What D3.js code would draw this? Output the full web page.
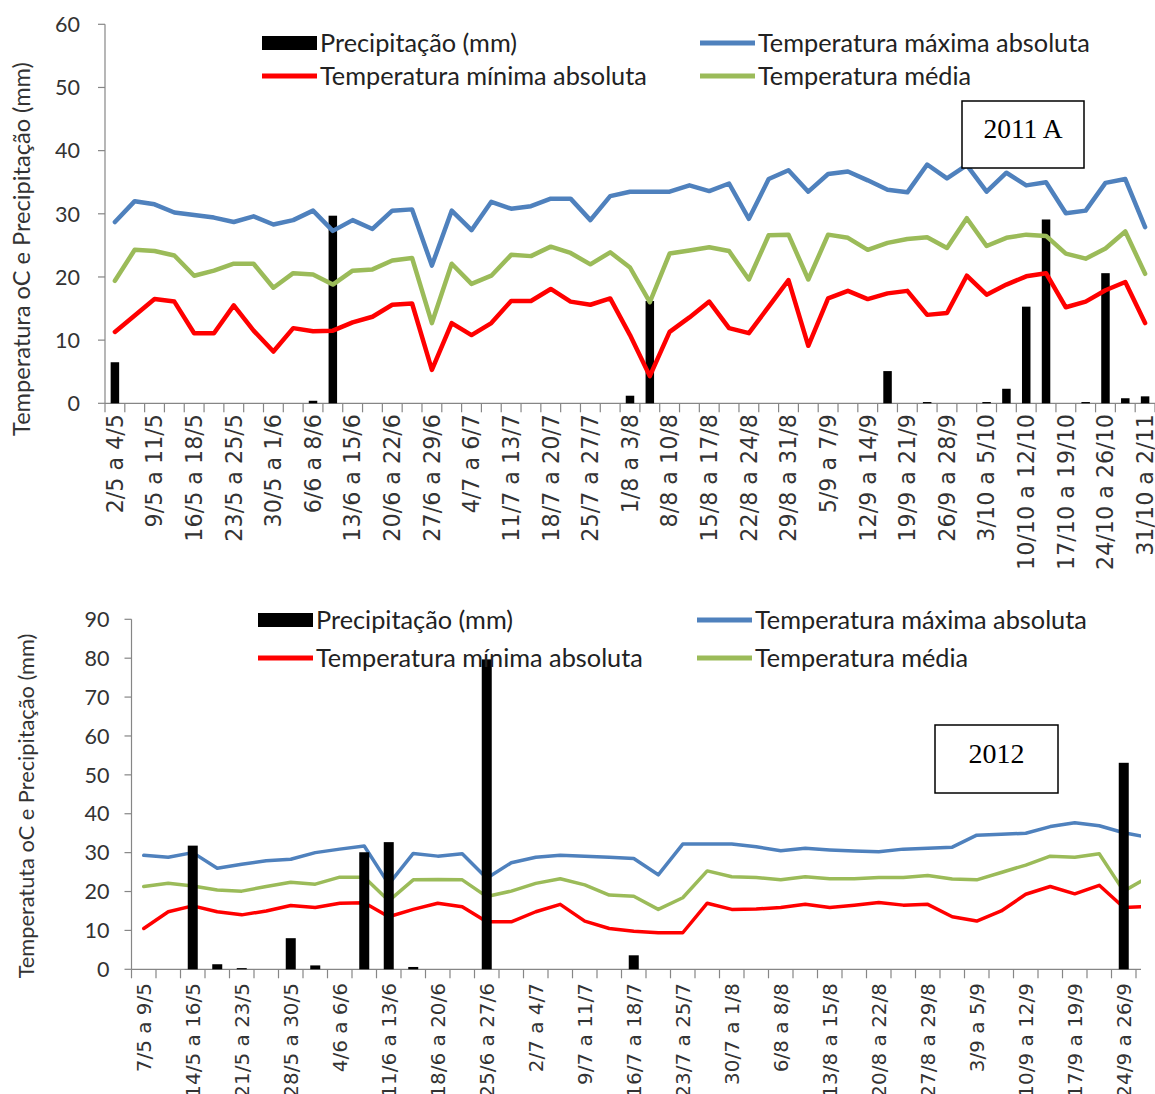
<!DOCTYPE html>
<html><head><meta charset="utf-8">
<script src="https://cdn.jsdelivr.net/npm/d3@7"></script>
<style>body{margin:0;background:#fff}svg{display:block}</style>
</head><body>
<svg id="c" width="1155" height="1094"></svg>
<script>
// ---------- DATA: 2011 A (twice-weekly periods) ----------
const labels2011 = ["2/5 a 4/5","9/5 a 11/5","16/5 a 18/5","23/5 a 25/5","30/5 a 1/6","6/6 a 8/6","13/6 a 15/6","20/6 a 22/6","27/6 a 29/6","4/7 a 6/7","11/7 a 13/7","18/7 a 20/7","25/7 a 27/7","1/8 a 3/8","8/8 a 10/8","15/8 a 17/8","22/8 a 24/8","29/8 a 31/8","5/9 a 7/9","12/9 a 14/9","19/9 a 21/9","26/9 a 28/9","3/10 a 5/10","10/10 a 12/10","17/10 a 19/10","24/10 a 26/10","31/10 a 2/11"];
const precip2011 = [6.5,0,0,0,0,0,0,0,0,0,0.4,29.7,0,0,0,0,0,0,0,0,0,0,0,0,0,0,1.2,16.2,0,0,0,0,0,0,0,0,0,0,0,5.1,0,0.2,0,0,0.2,2.3,15.3,29.1,0,0.2,20.6,0.8,1.1];
const tmax2011 = [28.7,32.0,31.5,30.2,29.8,29.4,28.7,29.6,28.3,29.0,30.5,27.3,29.0,27.6,30.5,30.7,21.8,30.5,27.4,31.9,30.8,31.2,32.4,32.4,29.0,32.8,33.5,33.5,33.5,34.5,33.6,34.8,29.2,35.5,36.9,33.5,36.3,36.7,35.3,33.8,33.4,37.8,35.6,37.7,33.5,36.5,34.5,35.0,30.1,30.5,34.9,35.5,27.9];
const tmin2011 = [11.3,13.9,16.5,16.1,11.1,11.1,15.5,11.5,8.2,11.9,11.4,11.5,12.8,13.7,15.6,15.8,5.3,12.7,10.8,12.7,16.2,16.2,18.1,16.1,15.6,16.6,10.8,4.3,11.3,13.6,16.1,11.9,11.1,15.3,19.5,9.1,16.6,17.8,16.5,17.4,17.8,14.0,14.3,20.2,17.2,18.8,20.1,20.6,15.2,16.1,17.9,19.2,12.7];
const tmed2011 = [19.4,24.3,24.1,23.4,20.2,21.0,22.1,22.1,18.3,20.6,20.4,18.8,21.0,21.2,22.6,23.0,12.7,22.1,18.9,20.2,23.5,23.3,24.8,23.8,22.0,23.9,21.5,16.0,23.7,24.2,24.7,24.1,19.6,26.6,26.7,19.6,26.7,26.2,24.3,25.4,26.0,26.3,24.6,29.3,24.9,26.2,26.7,26.5,23.7,22.9,24.5,27.2,20.5];
const yTicks2011 = [0,10,20,30,40,50,60];

// ---------- DATA: 2012 ----------
const labels2012 = ["7/5 a 9/5","14/5 a 16/5","21/5 a 23/5","28/5 a 30/5","4/6 a 6/6","11/6 a 13/6","18/6 a 20/6","25/6 a 27/6","2/7 a 4/7","9/7 a 11/7","16/7 a 18/7","23/7 a 25/7","30/7 a 1/8","6/8 a 8/8","13/8 a 15/8","20/8 a 22/8","27/8 a 29/8","3/9 a 5/9","10/9 a 12/9","17/9 a 19/9","24/9 a 26/9"];
const precip2012 = [0,0,31.8,1.3,0.3,0,8.0,1.0,0,30.1,32.7,0.6,0,0,79.7,0,0,0,0,0,3.6,0,0,0,0,0,0,0,0,0,0,0,0,0,0,0,0,0,0,0,53.1,0];
const tmax2012 = [29.3,28.8,30.0,26.0,27.0,27.9,28.3,30.0,30.9,31.7,21.9,29.8,29.1,29.7,23.4,27.4,28.8,29.3,29.1,28.8,28.5,24.3,32.2,32.2,32.2,31.5,30.5,31.1,30.7,30.4,30.2,30.9,31.1,31.4,34.5,34.7,35.0,36.7,37.7,36.9,35.1,33.9];
const tmin2012 = [10.5,14.8,16.3,14.8,14.0,15.0,16.4,15.9,17.0,17.1,13.5,15.4,17.0,16.1,12.2,12.2,14.8,16.7,12.4,10.5,9.8,9.4,9.4,17.0,15.4,15.5,15.9,16.7,15.9,16.5,17.2,16.5,16.7,13.5,12.4,15.0,19.3,21.3,19.4,21.6,15.9,16.2];
const tmed2012 = [21.3,22.1,21.4,20.4,20.1,21.3,22.4,21.9,23.7,23.7,17.6,23.0,23.1,23.0,18.7,20.1,22.1,23.3,21.7,19.1,18.8,15.4,18.4,25.3,23.8,23.6,23.0,23.8,23.3,23.3,23.6,23.6,24.1,23.2,23.0,24.9,26.8,29.1,28.8,29.7,20.1,23.7];
const yTicks2012 = [0,10,20,30,40,50,60,70,80,90];

const legendNames = ["Precipitação (mm)","Temperatura máxima absoluta","Temperatura mínima absoluta","Temperatura média"];
const colors = {max:"#4F81BD", min:"#FF0000", med:"#9BBB59", bar:"#000000"};

const svg = d3.select("#c");
const SANS = "Lato, 'Open Sans', sans-serif";
const AX = "#868686";

function fitSize(textSel, target){
  const w = textSel.node().getComputedTextLength();
  const fs = parseFloat(textSel.attr("font-size"));
  return fs*target/w;
}

function drawChart(cfg){
  const g = svg.append("g");
  const n = cfg.tmax.length;
  const x = d3.scaleBand().domain(d3.range(n)).range([cfg.x0, cfg.x1]).padding(0);
  const y = d3.scaleLinear().domain([0, cfg.yMax]).range([cfg.yBottom, cfg.yTop]);
  const cx = i => x(i) + x.bandwidth()/2;

  const clipId = "clip"+cfg.id;
  svg.append("clipPath").attr("id", clipId).append("rect")
    .attr("x", 0).attr("y", 0).attr("width", cfg.clipX).attr("height", 1094);
  const plot = g.append("g").attr("clip-path", `url(#${clipId})`);

  // y axis
  const ya = g.append("g");
  ya.append("line").attr("x1", cfg.x0).attr("x2", cfg.x0).attr("y1", y(0)).attr("y2", y(cfg.yMax)).attr("stroke", AX).attr("stroke-width", 1.2);
  cfg.yTicks.forEach(t=>{
    ya.append("line").attr("x1", cfg.x0-7).attr("x2", cfg.x0).attr("y1", y(t)).attr("y2", y(t)).attr("stroke", AX).attr("stroke-width", 1.2);
  });
  const ytl = ya.selectAll("text.yt").data(cfg.yTicks).enter().append("text")
    .attr("x", cfg.x0 - cfg.yLabelGap).attr("y", d=>y(d)).attr("dy","0.36em")
    .attr("text-anchor","end").attr("font-family", SANS).attr("font-size", 22).attr("fill","#333")
    .text(d=>d);
  const yfs = fitSize(ytl.filter(d=>d===cfg.yTicks[cfg.yTicks.length-1]), cfg.yLabelW);
  ytl.attr("font-size", yfs);

  // y title
  const tt = g.append("text").attr("transform", `translate(${cfg.titleX},${cfg.titleY}) rotate(-90)`)
    .attr("text-anchor","middle").attr("dy","0.35em").attr("font-family", SANS).attr("font-size", 20).attr("fill","#333")
    .text(cfg.title);
  tt.attr("font-size", fitSize(tt, cfg.titleW));

  // x axis
  plot.append("line").attr("x1", cfg.x0).attr("x2", cfg.x1).attr("y1", y(0)).attr("y2", y(0)).attr("stroke", AX).attr("stroke-width", 1.2);
  d3.range(n+1).forEach(i=>{
    const xx = cfg.x0 + i*x.bandwidth();
    plot.append("line").attr("x1", xx).attr("x2", xx).attr("y1", y(0)).attr("y2", y(0)+cfg.tickLen).attr("stroke", AX).attr("stroke-width", 1.2);
  });
  const xl = g.selectAll("text.xl").data(cfg.labels).enter().append("text")
    .attr("transform", (d,k)=>`translate(${cx(2*k)},${cfg.xLabelY}) rotate(-90)`)
    .attr("text-anchor","end").attr("dy","0.35em").attr("font-family", "'DejaVu Sans', Verdana, sans-serif")
    .attr("font-size", 20).attr("fill","#333").text(d=>d);
  const xfs = fitSize(xl.filter(d=>d===cfg.xRefLabel), cfg.xRefW);
  xl.attr("font-size", xfs);

  const bars = () => plot.selectAll("rect.bar").data(cfg.precip).enter().append("rect")
    .attr("x", (d,i)=>cx(i)-cfg.barW/2).attr("width", cfg.barW)
    .attr("y", d=>y(d)).attr("height", d=>y(0)-y(d)).attr("fill", colors.bar);
  const lines = () => {
    [[cfg.tmin, colors.min],[cfg.tmed, colors.med],[cfg.tmax, colors.max]].forEach(([arr,col])=>{
      plot.append("path").datum(arr).attr("fill","none").attr("stroke", col).attr("stroke-width", cfg.lineW)
        .attr("stroke-linejoin","round").attr("stroke-linecap","round")
        .attr("d", d3.line().x((d,i)=>cx(i)).y(d=>y(d)));
    });
  };
  if (cfg.barsOnTop){ lines(); bars(); } else { bars(); lines(); }

  // legend
  const L = cfg.legend;
  const lg = g.append("g");
  lg.append("rect").attr("x", L.c1).attr("y", L.r1-7).attr("width", L.sw).attr("height", 14).attr("fill","#000");
  lg.append("line").attr("x1", L.c2).attr("x2", L.c2+L.sw).attr("y1", L.r1).attr("y2", L.r1).attr("stroke", colors.max).attr("stroke-width", 5);
  lg.append("line").attr("x1", L.c1).attr("x2", L.c1+L.sw).attr("y1", L.r2).attr("y2", L.r2).attr("stroke", colors.min).attr("stroke-width", 5);
  lg.append("line").attr("x1", L.c2).attr("x2", L.c2+L.sw).attr("y1", L.r2).attr("y2", L.r2).attr("stroke", colors.med).attr("stroke-width", 5);
  const pos = [[L.c1,L.r1],[L.c2,L.r1],[L.c1,L.r2],[L.c2,L.r2]];
  const lt = lg.selectAll("text").data(legendNames).enter().append("text")
    .attr("x",(d,i)=>pos[i][0]+L.sw+3).attr("y",(d,i)=>pos[i][1]).attr("dy","0.35em")
    .attr("font-family", SANS).attr("font-size", 22).attr("fill","#222").text(d=>d);
  lt.attr("font-size", fitSize(lt.filter((d,i)=>i===1), L.refW));

  // annotation box
  const B = cfg.box;
  g.append("rect").attr("x", B.x).attr("y", B.y).attr("width", B.w).attr("height", B.h)
    .attr("fill","#fff").attr("stroke","#000").attr("stroke-width",1.5);
  g.append("text").attr("x", B.x+B.w/2).attr("y", B.y+B.h/2 - 6).attr("dy","0.35em").attr("text-anchor","middle")
    .attr("font-family","'Liberation Serif', 'Times New Roman', serif").attr("font-size", B.fs).attr("fill","#000").text(B.text);
}

drawChart({
  id:"a", tmax:tmax2011, tmin:tmin2011, tmed:tmed2011, precip:precip2011, labels:labels2011,
  x0:105, x1:1155, clipX:1155, yMax:60, yTop:24.3, yBottom:403.3, yTicks:yTicks2011,
  yLabelGap:25, yLabelW:25, title:"Temperatura oC e Precipitação (mm)", titleX:22, titleY:249, titleW:374,
  tickLen:9, xLabelY:414, xRefLabel:"10/10 a 12/10", xRefW:156,
  barW:8.5, lineW:4.5, barsOnTop:false,
  legend:{c1:262, c2:700, r1:43, r2:76, sw:55, refW:332},
  box:{x:962, y:101, w:122, h:67, text:"2011 A", fs:27.5}
});
drawChart({
  id:"b", tmax:tmax2012, tmin:tmin2012, tmed:tmed2012, precip:precip2012, labels:labels2012,
  x0:131.5, x1:131.5+42*24.5, clipX:1141, yMax:90, yTop:619.3, yBottom:969.3, yTicks:yTicks2012,
  yLabelGap:22, yLabelW:25, title:"Temperatuta oC e Precipitação (mm)", titleX:26, titleY:806, titleW:345,
  tickLen:9, xLabelY:983, xRefLabel:"30/7 a 1/8", xRefW:102,
  barW:10, lineW:3.5, barsOnTop:true,
  legend:{c1:258, c2:697, r1:620, r2:658, sw:55, refW:332},
  box:{x:935, y:725, w:123, h:68, text:"2012", fs:28}
});
</script>
</body></html>
